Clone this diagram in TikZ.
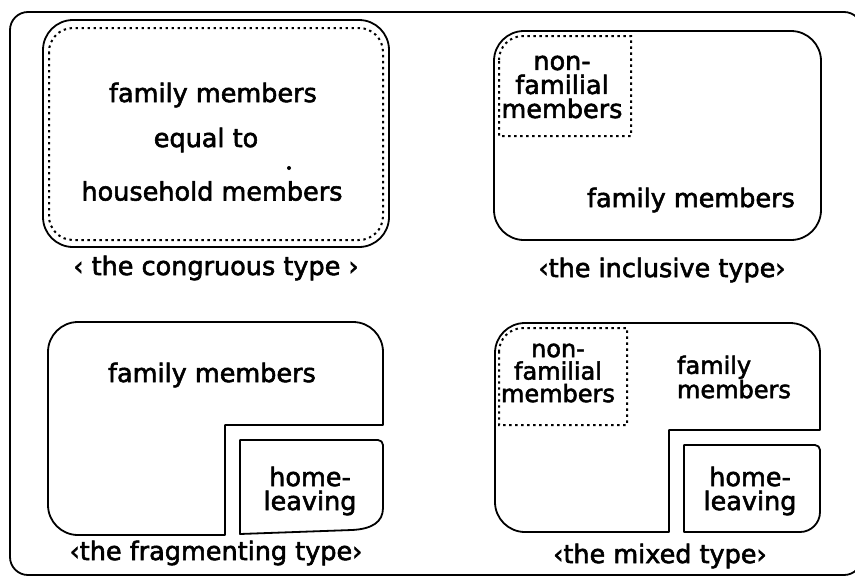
\documentclass[tikz,border=0pt]{standalone}
\usepackage{fontspec}
\newfontfamily\lblfont[FakeBold=2.2]{DejaVu Sans}
\begin{document}
\begin{tikzpicture}[x=1pt,y=-1pt,
  line width=1.8pt,
  solidline/.style={draw=black,line width=1.8pt,line join=round},
  dotline/.style={draw=black,line width=2pt,dash pattern=on 2.4pt off 3.6pt},
  lbl/.style={font=\lblfont\fontsize{25.5}{24}\selectfont,inner sep=0pt,align=center},
  lbltight/.style={lbl,font=\lblfont\fontsize{24}{22.5}\selectfont},
]
\useasboundingbox (0,0) rectangle (855,579);
\fill[white] (0,0) rectangle (855,579);
\clip (0,0) rectangle (855,579);

% outer frame
\draw[solidline,rounded corners=18pt] (10,12) rectangle (862,575);

% ---- congruous type ----
\draw[solidline,rounded corners=30pt] (43,20) rectangle (389,247);
\draw[dotline,rounded corners=24pt] (49,28) rectangle (383,240);
\node[lbl] (c1) at (213,95) {family members};
\node[lbl] (c2) at (206,140) {equal to};
\node[lbl] (c3) at (212,191) {household members};
\fill (289,168) circle (2pt);
\node[lbl] (ccap) at (216,268) {‹ the congruous type ›};

% ---- inclusive type ----
\draw[solidline,rounded corners=30pt] (494,31) rectangle (821,240);
\draw[dotline] (499,60) arc[start angle=180,end angle=270,radius=24] -- (631,36) -- (631,136) -- (499,136) -- cycle;
\node[lbl] (inon) at (562,87) {non-\\familial\\members};
\node[lbl] (ifam) at (691,200) {family members};
\node[lbl] (icap) at (662,270) {‹the inclusive type›};

% ---- fragmenting type ----
\draw[solidline] (225,425) -- (225,535) -- (78,535)
  arc[start angle=90,end angle=180,radius=30] -- (48,352)
  arc[start angle=180,end angle=270,radius=30] -- (353,322)
  arc[start angle=270,end angle=360,radius=30] -- (383,425) -- cycle;
\draw[solidline] (240,440) -- (378,440) arc[start angle=270,end angle=360,radius=5] -- (383,508)
  .. controls (383,522) and (372,529) .. (352,530) -- (240,534) -- cycle;
\node[lbl] (ffam) at (212,375) {family members};
\node[lbl] (fhome) at (310,491) {home-\\leaving};
\node[lbl] (fcap) at (216,553) {‹the fragmenting type›};

% ---- mixed type ----
\draw[solidline] (669,430) -- (669,532) -- (525,532)
  arc[start angle=90,end angle=180,radius=30] -- (495,353)
  arc[start angle=180,end angle=270,radius=30] -- (790,323)
  arc[start angle=270,end angle=360,radius=30] -- (820,430) -- cycle;
\draw[dotline] (499,352) arc[start angle=180,end angle=270,radius=24] -- (627,328) -- (627,425) -- (499,425) -- cycle;
\draw[solidline] (684,445) -- (815,445) arc[start angle=270,end angle=360,radius=5] -- (820,512)
  arc[start angle=0,end angle=90,radius=20] -- (684,532) -- cycle;
\node[lbltight] (mnon) at (558,373) {non-\\familial\\members};
\node[lbltight,align=left] (mfam) at (734,377) {family\\members};
\node[lbl] (mhome) at (750,491) {home-\\leaving};
\node[lbl] (mcap) at (660,556) {‹the mixed type›};
\end{tikzpicture}
\end{document}
